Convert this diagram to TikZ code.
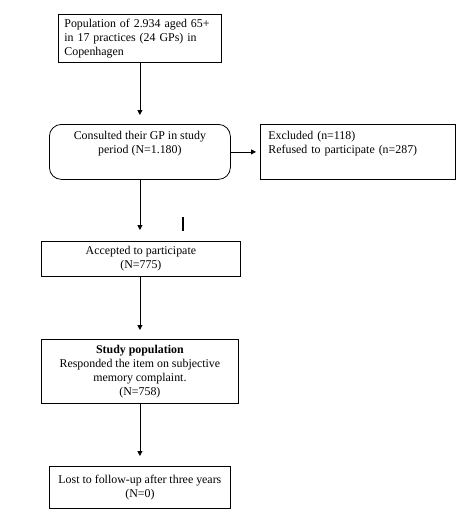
\documentclass[tikz,border=0pt]{standalone}
\usepackage{fontspec}
\setmainfont{Liberation Serif}
\usetikzlibrary{arrows.meta}

\tikzset{
    box/.style={draw, line width=0.8pt, inner sep=0pt, anchor=north west,
        font=\fontsize{11.9}{14}\selectfont},
    flow/.style={-{Triangle[width=5pt,length=5pt]}, line width=0.8pt},
}

\begin{document}
\begin{tikzpicture}[x=1pt,y=-1pt]
        \useasboundingbox (0,0) rectangle (459,520);

        \node[box, minimum width=163pt, minimum height=48pt, text width=151pt, align=left] (pop) at (58,14)
            {Population of 2.934 aged 65+\\in 17 practices (24 GPs) in\\Copenhagen};
        \node[box, rounded corners=12pt, minimum width=181pt, minimum height=55pt, align=center] (gp) at (49,124)
            {Consulted their GP in study\\period (N=1.180)\\\strut};
        \node[box, minimum width=195pt, minimum height=55pt, text width=179pt, align=left] (excl) at (260,124)
            {Excluded (n=118)\\Refused to participate (n=287)\\\strut};
        \node[box, minimum width=199pt, minimum height=35pt, align=center] (acc) at (41,241)
            {Accepted to participate\\(N=775)};
        \node[box, minimum width=197pt, minimum height=64pt, align=center] (study) at (41,339)
            {\textbf{Study population}\\Responded the item on subjective\\memory complaint.\\(N=758)};
        \node[box, minimum width=181pt, minimum height=42pt, align=center] (lost) at (49,466)
            {Lost to follow-up after three years\\(N=0)};

        \draw[flow, shorten >=9pt] (pop.south) -- (pop.south |- gp.north);
        \draw[flow, shorten >=4pt] (gp.east) -- (excl.west);
        \draw[flow, shorten >=11pt] (gp.south) -- (gp.south |- acc.north);
        \draw[flow, shorten >=9pt] (acc.south -| gp.south) -- (study.north -| gp.south);
        \draw[flow, shorten >=10pt] (study.south -| gp.south) -- (lost.north);

        \draw[line width=2pt] (182.5,217) -- (182.5,231);
\end{tikzpicture}
\end{document}
